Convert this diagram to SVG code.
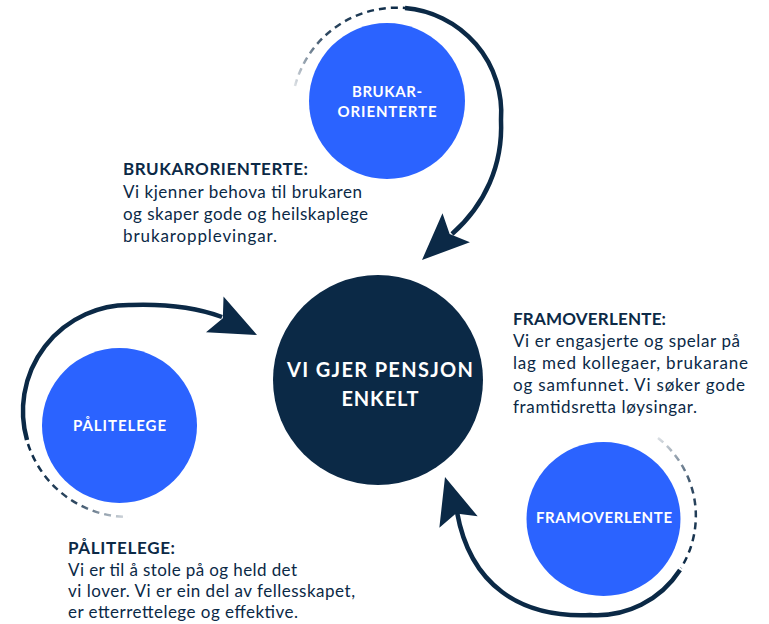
<svg xmlns="http://www.w3.org/2000/svg" xmlns:xlink="http://www.w3.org/1999/xlink" width="769" height="624" viewBox="0 0 769 624">
<style>
  .navy{fill:#0B2946}
  .blue{fill:#2B63FF}
  .lbl{font-family:Lato,"Noto Sans","Liberation Sans",sans-serif;font-weight:700;fill:#FFFFFF;text-anchor:middle}
  .ttl{font-family:Lato,"Noto Sans","Liberation Sans",sans-serif;font-weight:700;font-size:17px;fill:#0B2946}
  .body{font-family:Lato,"Noto Sans","Liberation Sans",sans-serif;font-size:17px;fill:#0B2946}
  .solid{fill:none;stroke:#0B2946;stroke-width:4.5}
  .dash{fill:none;stroke-width:2.5;stroke-dasharray:7 5}
</style>
<defs>
  <path id="ah" d="M0 0 L-47 -20 L-38 0 L-47 20 Z" fill="#0B2946"/>
  <linearGradient id="gB" gradientUnits="userSpaceOnUse" x1="405" y1="8" x2="295" y2="86">
    <stop offset="0" stop-color="#0B2946"/><stop offset="0.6" stop-color="#0B2946" stop-opacity="0.85"/><stop offset="1" stop-color="#0B2946" stop-opacity="0.15"/>
  </linearGradient>
  <linearGradient id="gP" gradientUnits="userSpaceOnUse" x1="28" y1="444" x2="128" y2="517">
    <stop offset="0" stop-color="#0B2946"/><stop offset="0.6" stop-color="#0B2946" stop-opacity="0.85"/><stop offset="1" stop-color="#0B2946" stop-opacity="0.15"/>
  </linearGradient>
  <linearGradient id="gF" gradientUnits="userSpaceOnUse" x1="681" y1="568" x2="658" y2="438">
    <stop offset="0" stop-color="#0B2946"/><stop offset="0.6" stop-color="#0B2946" stop-opacity="0.85"/><stop offset="1" stop-color="#0B2946" stop-opacity="0.15"/>
  </linearGradient>
</defs>
<rect width="769" height="624" fill="#FFFFFF"/>

<g id="connectors">
  <path class="dash" stroke="url(#gB)" d="M295 86 A105 105 0 0 1 405 8"/>
  <path class="solid" d="M405 8 A105 105 0 0 1 501 120 C503 165 485 205 452 234"/>
  <use xlink:href="#ah" transform="translate(422,260) rotate(136.7)"/>

  <path class="dash" stroke="url(#gP)" d="M28 444 A106 106 0 0 0 128 517"/>
  <path class="solid" d="M27 440 A106 106 0 0 1 131 305 C160 304 192 306 222 317"/>
  <use xlink:href="#ah" transform="translate(257,335) rotate(26)"/>

  <path class="dash" stroke="url(#gF)" d="M658 438 A99 99 0 0 1 681 568"/>
  <path class="solid" d="M680 570 A99 99 0 0 1 590 615 C520 618 470 585 457 512"/>
  <use xlink:href="#ah" transform="translate(445,477) rotate(-106.7)"/>
</g>

<g id="node-center">
  <circle class="navy" cx="378" cy="380" r="105"/>
  <text class="lbl" font-size="20" x="380" y="377" textLength="186">VI GJER PENSJON</text>
  <text class="lbl" font-size="20" x="380" y="406" textLength="77">ENKELT</text>
</g>

<g id="node-brukarorienterte">
  <circle class="blue" cx="387" cy="101" r="78"/>
  <text class="lbl" font-size="15" x="387" y="97" textLength="70">BRUKAR-</text>
  <text class="lbl" font-size="15" x="387" y="117" textLength="99">ORIENTERTE</text>
</g>

<g id="node-palitelege">
  <circle class="blue" cx="119.5" cy="425.5" r="77.5"/>
  <text class="lbl" font-size="15" x="119.5" y="431" textLength="93">PÅLITELEGE</text>
</g>

<g id="node-framoverlente">
  <circle class="blue" cx="603.5" cy="519" r="77"/>
  <text class="lbl" font-size="15" x="604" y="523" textLength="136">FRAMOVERLENTE</text>
</g>

<g id="text-brukarorienterte">
  <text class="ttl" x="123" y="175" textLength="185">BRUKARORIENTERTE:</text>
  <text class="body" x="123" y="198" textLength="239">Vi kjenner behova til brukaren</text>
  <text class="body" x="123" y="220" textLength="245">og skaper gode og heilskaplege</text>
  <text class="body" x="123" y="242" textLength="154">brukaropplevingar.</text>
</g>

<g id="text-framoverlente">
  <text class="ttl" x="513" y="325" textLength="153">FRAMOVERLENTE:</text>
  <text class="body" x="513" y="347" textLength="227">Vi er engasjerte og spelar på</text>
  <text class="body" x="513" y="369" textLength="235">lag med kollegaer, brukarane</text>
  <text class="body" x="513" y="391" textLength="232">og samfunnet. Vi søker gode</text>
  <text class="body" x="513" y="413" textLength="184">framtidsretta løysingar.</text>
</g>

<g id="text-palitelege">
  <text class="ttl" x="68" y="554" textLength="107">PÅLITELEGE:</text>
  <text class="body" x="68" y="576" textLength="229">Vi er til å stole på og held det</text>
  <text class="body" x="68" y="597" textLength="287">vi lover. Vi er ein del av fellesskapet,</text>
  <text class="body" x="68" y="618" textLength="230">er etterrettelege og effektive.</text>
</g>
</svg>
